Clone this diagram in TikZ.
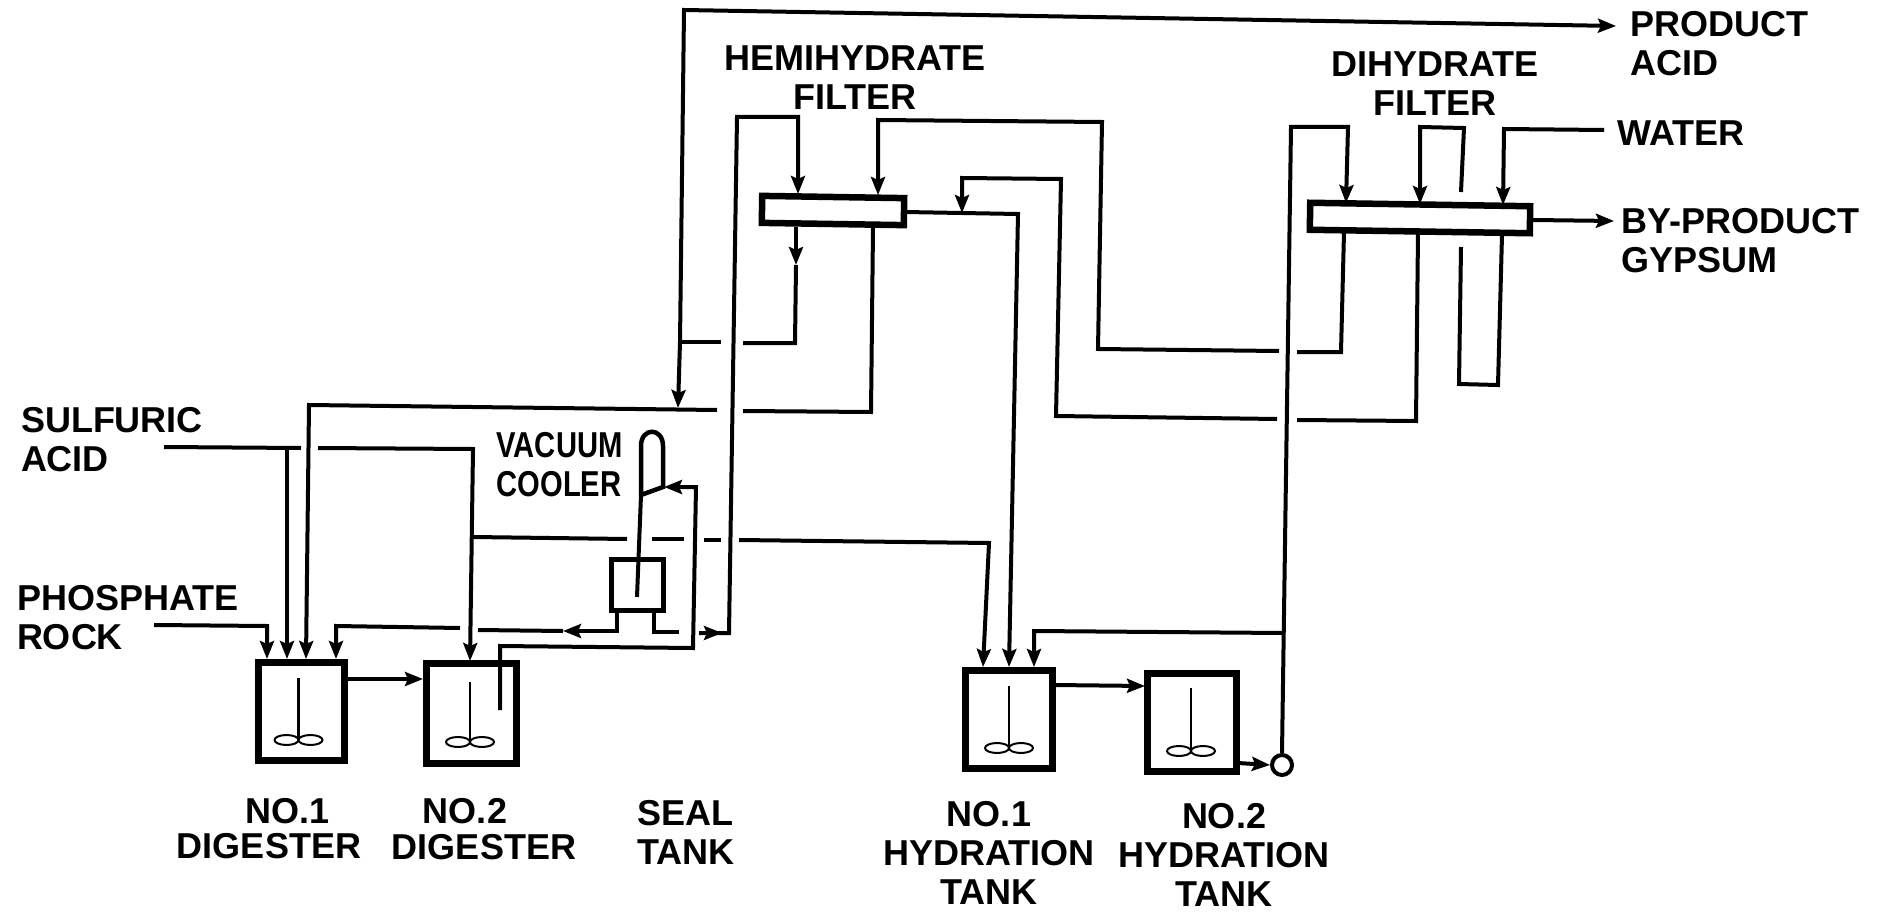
\documentclass[tikz,border=0pt]{standalone}
\usepackage{fontspec}
\setmainfont{Liberation Sans}
\usepackage{tikz}
\usetikzlibrary{arrows.meta}

\begin{document}
\begin{tikzpicture}[x=1pt, y=-1pt, line width=4pt, line join=miter,
        >={Stealth[length=18pt,width=14pt,inset=3pt]},
        lab/.style={font=\fontsize{36}{39}\selectfont\bfseries, inner sep=0pt},
        vessel/.style={draw, line width=7pt, inner sep=0pt},
        filterbox/.style={draw, line width=6.5pt, inner sep=0pt, rotate=-0.9}]
    \useasboundingbox (0,0) rectangle (1877,912);
    \node[vessel, minimum width=86pt, minimum height=98pt] (dig1) at (301,711) {};
    \node[vessel, minimum width=90pt, minimum height=100pt] (dig2) at (471,713) {};
    \node[vessel, minimum width=87pt, minimum height=98pt] (hyd1) at (1009,719) {};
    \node[vessel, minimum width=89pt, minimum height=98pt] (hyd2) at (1192,722) {};
    \node[draw, line width=5pt, inner sep=0pt, minimum width=52pt, minimum height=51pt] (seal) at (637.5,585) {};
    \node[filterbox, minimum width=142pt, minimum height=27pt] (hem) at (833,210.5) {};
    \node[filterbox, minimum width=220pt, minimum height=27pt] (dih) at (1420,218) {};
    \node[draw, circle, inner sep=0pt, minimum size=20pt] (pump) at (1282,765) {};

    \node[lab, align=left, anchor=west] (sulf) at (19,440) {SULFURIC\\ACID};
    \node[lab, align=left, anchor=west] (rock) at (15,618) {PHOSPHATE\\ROCK};
    \node[lab] (dig1no) at (288,811) {NO.1};
    \node[lab] (dig1name) at (269,846) {DIGESTER};
    \node[lab] (dig2no) at (465,811) {NO.2};
    \node[lab] (dig2name) at (484,847) {DIGESTER};
    \node[lab, align=left, anchor=west] (sealname) at (635,832) {SEAL\\TANK};
    \node[lab, align=left, anchor=west, xscale=.81, transform shape] (coolname) at (495,465) {VACUUM\\COOLER};
    \node[lab, align=center] (hemname) at (855,78) {HEMIHYDRATE\\FILTER};
    \node[lab, align=center] (dihname) at (1435,84) {DIHYDRATE\\FILTER};
    \node[lab, align=left, anchor=west] (prod) at (1628,44) {PRODUCT\\ACID};
    \node[lab, anchor=west] (water) at (1615,133) {WATER};
    \node[lab, align=left, anchor=west] (gyp) at (1619,241) {BY-PRODUCT\\GYPSUM};
    \node[lab, align=center] (hyd1name) at (989,853) {NO.1\\HYDRATION\\TANK};
    \node[lab, align=center] (hyd2name) at (1224,855) {NO.2\\HYDRATION\\TANK};

    \foreach \n/\x in {a/267, b/287, c/306, d/336} \coordinate (dig1\n) at (\x,659);
    \foreach \n/\x in {a/470, b/500} \coordinate (dig2\n) at (\x,661);
    \foreach \n/\x in {a/983, b/1009, c/1034} \coordinate (hyd1\n) at (\x,667);
    \coordinate (hemin1) at (798,194);
    \coordinate (hemin2) at (878,195);
    \coordinate (hemout1) at (796,227);
    \coordinate (hemout2) at (873,228);
    \coordinate (dihin1) at (1346,203);
    \coordinate (dihin2) at (1420,204);
    \coordinate (dihin3) at (1503,205);
    \coordinate (dihout1) at (1344,232);
    \coordinate (dihout2) at (1418,233);
    \coordinate (dihout3) at (1502,235);

    \coordinate (sulfa) at (164,447);
    \coordinate (sulfb) at (301,448);
    \coordinate (sulfc) at (287,448);
    \coordinate (sulfd) at (318,448);
    \draw (sulfa) -- (sulfb);
    \draw[->] (sulfc) -- (dig1b);
    \draw[->] (sulfd) -- (473,449) -- (dig2a);

    \coordinate (rocka) at (154,625);
    \draw[->] (rocka) -- (267,626) -- (dig1a);

    \coordinate (reca) at (743,411);
    \coordinate (recb) at (717,410);
    \draw (hemout2) -- (871,412) -- (reca);
    \draw[->] (recb) -- (309,405) -- (dig1c);

    \coordinate (acidj) at (680,342);
    \coordinate (acidk) at (678,408);
    \coordinate (acide) at (1616,26);
    \coordinate (unda) at (796,265);
    \coordinate (undb) at (743,343);
    \coordinate (undc) at (721,342);
    \draw[->] (acidj) -- (684,10) -- (acide);
    \draw[->] (acidj) -- (acidk);
    \draw[->] (hemout1) -- (unda);
    \draw (unda) -- (795,343) -- (undb);
    \draw (undc) -- (acidj);

    \coordinate (seala) at (617,610);
    \coordinate (sealb) at (654,610);
    \coordinate (sealc) at (679,632);
    \coordinate (seald) at (699,633);
    \coordinate (seale) at (722,633);
    \coordinate (sealf) at (563,631);
    \coordinate (sealg) at (478,630);
    \coordinate (sealh) at (460,628);
    \draw (sealb) -- (654,632) -- (sealc);
    \draw[->] (seald) -- (seale);
    \draw[->] (seald) -- (729,633) -- (737,117) -- (798,117) -- (hemin1);
    \draw[->] (seala) -- (617,631) -- (sealf);
    \draw (sealf) -- (sealg);
    \draw[->] (sealh) -- (336,626) -- (dig1d);

    \coordinate (flowa) at (346,679);
    \coordinate (flowb) at (423,679);
    \draw[->] (flowa) -- (flowb);
    \coordinate (flowc) at (1054,685);
    \coordinate (flowd) at (1145,686);
    \draw[->] (flowc) -- (flowd);
    \coordinate (flowe) at (1238,763);
    \draw[->] (flowe) -- (pump.west);

    \coordinate (dipa) at (500,710);
    \coordinate (coolin) at (664,487);
    \draw[->] (dipa) -- (500,646) -- (693,648) -- (696,487) -- (coolin);

    \coordinate (coola) at (641,495);
    \coordinate (coolb) at (637,597);
    \draw[line width=4.5pt] (coola) -- (641,446) .. controls (641,427) and (663,427) .. (663,446) -- (663,487) -- (coola);
    \draw (coola) -- (coolb);

    \coordinate (crossa) at (473,537);
    \coordinate (crossb) at (627,539);
    \coordinate (crossc) at (652,539);
    \coordinate (crossd) at (684,539);
    \coordinate (crosse) at (704,540);
    \coordinate (crossf) at (721,540);
    \coordinate (crossg) at (739,540);
    \draw (crossa) -- (crossb);
    \draw (crossc) -- (crossd);
    \draw (crosse) -- (crossf);
    \draw[->] (crossg) -- (989,543) -- (hyd1a);

    \coordinate (hemj) at (962,213);
    \coordinate (hemr) at (905,212);
    \draw[->] (hemr) -- (1018,214) -- (hyd1b);
    \coordinate (washa) at (1297,420);
    \coordinate (washb) at (1277,419);
    \draw (dihout2) -- (1416,421) -- (washa);
    \draw[->] (washb) -- (1056,416) -- (1061,179) -- (962,178) -- (hemj);
    \coordinate (filta) at (1297,352);
    \coordinate (filtb) at (1279,351);
    \draw (dihout1) -- (1341,352) -- (filta);
    \draw[->] (filtb) -- (1098,349) -- (1102,122) -- (878,120) -- (hemin2);

    \coordinate (risej) at (1283,633);
    \draw[->] (pump.north) -- (1291,127) -- (1348,127) -- (dihin1);
    \draw[->] (risej) -- (1034,631) -- (hyd1c);

    \coordinate (loopa) at (1461,247);
    \coordinate (loopb) at (1461,192);
    \draw (dihout3) -- (1498,385) -- (1459,384) -- (loopa);
    \draw[->] (loopb) -- (1464,128) -- (1420,127) -- (dihin2);

    \coordinate (watera) at (1604,130);
    \draw[->] (watera) -- (1504,129) -- (dihin3);
    \coordinate (gypa) at (1533,220);
    \coordinate (gypb) at (1614,221);
    \draw[->] (gypa) -- (gypb);

    \foreach \x/\t/\b in {298.5/678/740, 470/682/742, 1009/686/748, 1191/688/751} {
        \draw[line width=2.5pt] (\x,\t) -- (\x,\b);
        \draw[line width=2pt] (\x-12,\b) ellipse [x radius=12, y radius=5];
        \draw[line width=2pt] (\x+12,\b) ellipse [x radius=12, y radius=5];
    }
\end{tikzpicture}
\end{document}
